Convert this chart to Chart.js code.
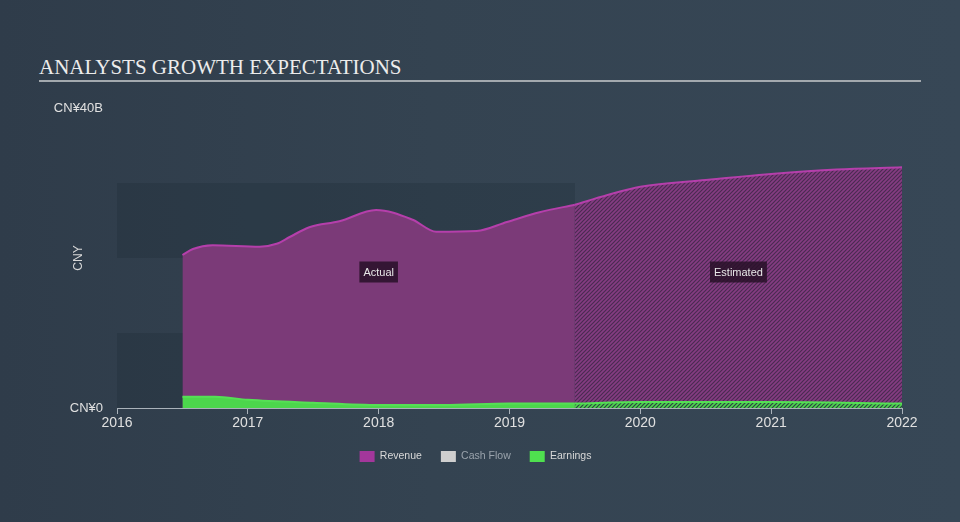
<!DOCTYPE html>
<html>
<head>
<meta charset="utf-8">
<script src="https://cdn.jsdelivr.net/npm/chart.js@4.4.0/dist/chart.umd.min.js"></script>
<style>
  html, body { margin: 0; padding: 0; }
  body {
    width: 960px; height: 522px; overflow: hidden;
    background: linear-gradient(90deg, #2f3c4a 0%, #344351 45%, #374756 100%);
  }
  #wrap { position: relative; width: 960px; height: 522px; }
  #title {
    position: absolute; left: 39px; top: 55px; width: 882px;
    font-family: "Liberation Serif", "Times New Roman", serif;
    font-size: 21px; line-height: 24px; color: #ececec;
    border-bottom: 2px solid #a3a9ae; padding-bottom: 1px;
  }
  canvas { position: absolute; left: 0; top: 0; }
</style>
</head>
<body>
<div id="wrap">
  <div id="title">ANALYSTS GROWTH EXPECTATIONS</div>
  <canvas id="growthChart" width="960" height="522"></canvas>
</div>
<script>
// Values in CNY billions, x in fractional years
const revenueActualX = [2016.5, 2016.58, 2016.73, 2017.09, 2017.22, 2017.32, 2017.47, 2017.7, 2017.98, 2018.26, 2018.44, 2018.75, 2018.98, 2019.23, 2019.5];
const revenueActualY = [20.4, 21.2, 21.7, 21.5, 21.9, 22.8, 24.1, 24.9, 26.4, 25.1, 23.5, 23.6, 24.8, 26.1, 27.1];
const revenueEstX = [2019.5, 2019.75, 2020, 2020.5, 2021, 2021.5, 2022];
const revenueEstY = [27.1, 28.4, 29.5, 30.4, 31.2, 31.8, 32.1];

const earningsActualX = [2016.5, 2016.75, 2017, 2017.5, 2018, 2018.5, 2019, 2019.5];
const earningsActualY = [1.5, 1.5, 1.1, 0.7, 0.4, 0.4, 0.6, 0.6];
const earningsEstX = [2019.5, 2020, 2021, 2022];
const earningsEstY = [0.6, 0.8, 0.8, 0.6];

const legendLabels = ['Revenue', 'Cash Flow', 'Earnings'];
const legendColors = ['#a3379b', '#cfcfcf', '#4fe04f'];
const legendTextColors = ['#d8d8d8', '#9aa3ac', '#d8d8d8'];

const yTicks = [0, 40];
const xMin = 2016, xMax = 2022, presentX = 2019.5;
const darkBands = [[0, 10], [20, 30]];

function toPoints(xs, ys) {
    return xs.map((x, i) => ({ x: x, y: ys[i] }));
}

// diagonal hatch used for the estimated part
function makeHatch(bg, fg) {
    const c = document.createElement('canvas');
    c.width = 4; c.height = 4;
    const g = c.getContext('2d');
    g.fillStyle = bg;
    g.fillRect(0, 0, 4, 4);
    g.strokeStyle = fg;
    g.lineWidth = 1.2;
    g.beginPath();
    g.moveTo(0, 4); g.lineTo(4, 0);
    g.moveTo(-1, 1); g.lineTo(1, -1);
    g.moveTo(3, 5); g.lineTo(5, 3);
    g.stroke();
    return g.createPattern(c, 'repeat');
}

const revenueHatch = makeHatch('#853c82', '#4a2b51');
const earningsHatch = makeHatch('#4cd64c', '#2e3f45');

const bandsPlugin = {
    id: 'bands',
    beforeDatasetsDraw(chart) {
        const { ctx, chartArea, scales } = chart;
        const xr = scales.x.getPixelForValue(presentX);
        ctx.save();
        ctx.fillStyle = 'rgba(10, 20, 30, 0.14)';
        darkBands.forEach(b => {
            const y1 = scales.y.getPixelForValue(b[1]);
            const y0 = scales.y.getPixelForValue(b[0]);
            ctx.fillRect(chartArea.left, y1, xr - chartArea.left, y0 - y1);
        });
        ctx.restore();
    }
};

const periodLabels = {
    id: 'periodLabels',
    afterDatasetsDraw(chart) {
        const { ctx, chartArea, scales } = chart;
        const yc = chartArea.top + chartArea.height * 0.545;
        const items = [
            { text: 'Actual', x: scales.x.getPixelForValue((revenueActualX[0] + presentX) / 2) },
            { text: 'Estimated', x: scales.x.getPixelForValue((presentX + xMax) / 2) }
        ];
        ctx.save();
        ctx.font = '11px "Liberation Sans", Arial, sans-serif';
        ctx.textAlign = 'center';
        ctx.textBaseline = 'middle';
        items.forEach(it => {
            const w = ctx.measureText(it.text).width + 8;
            ctx.fillStyle = 'rgba(40, 16, 40, 0.85)';
            ctx.fillRect(it.x - w / 2, yc - 10, w, 21);
            ctx.fillStyle = '#e8e8e8';
            ctx.fillText(it.text, it.x, yc + 1);
        });
        ctx.restore();
    }
};

const lineBase = {
    fill: 'origin',
    pointRadius: 0,
    borderWidth: 2,
    cubicInterpolationMode: 'monotone'
};

new Chart(document.getElementById('growthChart'), {
    type: 'line',
    data: {
        datasets: [
            Object.assign({}, lineBase, {
                label: 'Earnings',
                data: toPoints(earningsActualX, earningsActualY),
                borderColor: '#55e055',
                backgroundColor: '#4cd64c',
                order: 1
            }),
            Object.assign({}, lineBase, {
                label: 'Earnings est',
                data: toPoints(earningsEstX, earningsEstY),
                borderColor: '#55e055',
                backgroundColor: earningsHatch,
                order: 1
            }),
            Object.assign({}, lineBase, {
                label: 'Revenue',
                data: toPoints(revenueActualX, revenueActualY),
                borderColor: '#b53fab',
                backgroundColor: '#7b3a78',
                order: 2
            }),
            Object.assign({}, lineBase, {
                label: 'Revenue est',
                data: toPoints(revenueEstX, revenueEstY),
                borderColor: '#b53fab',
                backgroundColor: revenueHatch,
                order: 2
            })
        ]
    },
    options: {
        responsive: false,
        animation: false,
        layout: { padding: { left: 49, top: 108, right: 58, bottom: 50 } },
        plugins: {
            tooltip: { enabled: false },
            legend: {
                position: 'bottom',
                onClick: null,
                labels: {
                    boxWidth: 15,
                    boxHeight: 11,
                    padding: 19,
                    font: { size: 10.5, family: '"Liberation Sans", Arial, sans-serif' },
                    generateLabels: () => legendLabels.map((t, i) => ({
                        text: t,
                        fillStyle: legendColors[i],
                        strokeStyle: legendColors[i],
                        lineWidth: 0,
                        fontColor: legendTextColors[i],
                        hidden: false,
                        datasetIndex: i
                    }))
                }
            }
        },
        scales: {
            x: {
                type: 'linear',
                min: xMin,
                max: xMax,
                afterFit: s => { s.height = 24; },
                border: { display: true, color: '#aab2ba', width: 1 },
                grid: { drawOnChartArea: false, drawTicks: true, tickLength: 6, color: '#aab2ba' },
                ticks: {
                    stepSize: 1,
                    autoSkip: false,
                    padding: 1,
                    color: '#e0e0e0',
                    font: { size: 14, family: '"Liberation Sans", Arial, sans-serif' },
                    callback: v => String(v)
                }
            },
            y: {
                min: yTicks[0],
                max: yTicks[1],
                afterFit: s => { s.width = 68; },
                afterBuildTicks: s => { s.ticks = yTicks.map(v => ({ value: v })); },
                border: { display: false },
                grid: { display: false, drawTicks: false },
                title: {
                    display: true,
                    text: 'CNY',
                    color: '#d8d8d8',
                    padding: { top: 22, bottom: 4 },
                    font: { size: 12, family: '"Liberation Sans", Arial, sans-serif' }
                },
                ticks: {
                    padding: 14,
                    color: '#e0e0e0',
                    font: { size: 13, family: '"Liberation Sans", Arial, sans-serif' },
                    callback: v => v === 0 ? 'CN¥0' : 'CN¥' + v + 'B'
                }
            }
        }
    },
    plugins: [bandsPlugin, periodLabels]
});
</script>
</body>
</html>
